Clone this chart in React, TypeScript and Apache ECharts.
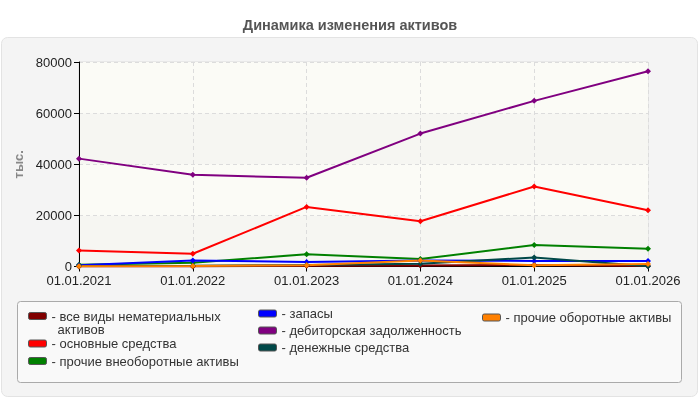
import React, { useEffect, useRef } from "react";
import * as echarts from "echarts";

const categories = ["01.01.2021", "01.01.2022", "01.01.2023", "01.01.2024", "01.01.2025", "01.01.2026"];
const seriesNames = [
  "все виды нематериальных активов",
  "основные средства",
  "прочие внеоборотные активы",
  "запасы",
  "дебиторская задолженность",
  "денежные средства",
  "прочие оборотные активы",
];
const intangible = [0, 0, 300, 400, 600, 200];
const fixedAssets = [6300, 5000, 23300, 17700, 31300, 22000];
const otherNonCurrent = [700, 1500, 4800, 2900, 8400, 6900];
const inventories = [500, 2300, 1800, 2300, 2200, 2200];
const receivables = [42200, 35900, 34700, 52000, 64800, 76400];
const cash = [200, 300, 600, 1100, 3500, 100];
const otherCurrent = [100, 200, 500, 2300, 500, 1000];
const seriesValues = [intangible, fixedAssets, otherNonCurrent, inventories, receivables, cash, otherCurrent];
const colors = ["#800000", "#ff0000", "#008000", "#0000ff", "#800080", "#004848", "#ff8000"];
const yTicks = { min: 0, max: 80000, interval: 20000 };

const FONT = "'Liberation Sans', Arial, sans-serif";

export default function App() {
  const ref = useRef<HTMLDivElement>(null);
  useEffect(() => {
    if (!ref.current) return;
    const chart = echarts.init(ref.current, null, { renderer: "svg" });
    const legendPos = [
      { left: 28, top: 309.5 },
      { left: 28, top: 337 },
      { left: 28, top: 354.5 },
      { left: 258, top: 307 },
      { left: 258, top: 324 },
      { left: 258, top: 341 },
      { left: 482, top: 311 },
    ];
    const legends = seriesNames.map((n, i) => ({
      data: [n],
      left: legendPos[i].left,
      top: legendPos[i].top,
      orient: "vertical",
      itemWidth: 18,
      itemHeight: 7,
      icon: "roundRect",
      padding: 0,
      selectedMode: false,
      itemStyle: { borderColor: "#555", borderWidth: 1 },
      textStyle: { fontSize: 13, color: "#333", fontFamily: FONT },
      formatter: (name: string) => "- " + (i === 0 ? "все виды нематериальных" : name),
    }));
    chart.setOption({
      animation: false,
      title: {
        text: "Динамика изменения активов",
        left: "center",
        top: 12,
        textStyle: { fontSize: 14.5, fontWeight: "bold", color: "#555", fontFamily: FONT },
      },
      graphic: [
        {
          type: "rect",
          z: -100,
          shape: { x: 1.5, y: 37.5, width: 696, height: 359, r: 6 },
          style: { fill: "#f4f4f4", stroke: "#e3e3e3", lineWidth: 1 },
        },
        {
          type: "rect",
          z: -90,
          shape: { x: 17.5, y: 301.5, width: 664, height: 81, r: 3 },
          style: { fill: "#f9f9f9", stroke: "#aaaaaa", lineWidth: 1 },
        },
        {
          type: "text",
          x: 57.5,
          y: 329.5,
          style: {
            text: "активов",
            fill: "#333",
            font: "13px " + FONT,
            textVerticalAlign: "middle",
          },
        },
      ],
      legend: legends,
      grid: {
        left: 79,
        right: 52,
        top: 62,
        bottom: 133.5,
        show: true,
        backgroundColor: "#fbfbf6",
        borderColor: "#dddddd",
        borderWidth: 1,
      },
      xAxis: {
        type: "category",
        data: categories,
        boundaryGap: false,
        axisLine: { lineStyle: { color: "#000", width: 1 } },
        axisTick: { show: true, alignWithLabel: true, length: 5, lineStyle: { color: "#000" } },
        axisLabel: { fontSize: 13, color: "#222", fontFamily: FONT, margin: 7 },
        splitLine: { show: true, lineStyle: { color: "#dcdcdc", type: [4, 3] } },
      },
      yAxis: {
        type: "value",
        min: yTicks.min,
        max: yTicks.max,
        interval: yTicks.interval,
        name: "тыс.",
        nameLocation: "middle",
        nameGap: 53,
        nameRotate: 90,
        nameTextStyle: { fontSize: 13, fontWeight: "bold", color: "#888", fontFamily: FONT },
        axisLine: { show: true, lineStyle: { color: "#000", width: 1 } },
        axisTick: { show: true, length: 5, lineStyle: { color: "#000" } },
        axisLabel: {
          fontSize: 13,
          color: "#222",
          fontFamily: FONT,
          margin: 7,
          formatter: (v: number) => String(v),
        },
        splitLine: { show: true, lineStyle: { color: "#dcdcdc", type: [4, 3] } },
        splitArea: { show: true, areaStyle: { color: ["#f6f6f2", "#fbfbf6"] } },
      },
      series: seriesNames.map((n, i) => ({
        name: n,
        type: "line",
        data: seriesValues[i],
        color: colors[i],
        symbol: "diamond",
        symbolSize: 6,
        showSymbol: true,
        lineStyle: { width: 2, color: colors[i] },
        itemStyle: { color: colors[i] },
      })),
    });
    return () => chart.dispose();
  }, []);
  return <div ref={ref} style={{ position: "fixed", left: 0, top: 0, width: 700, height: 400 }} />;
}
